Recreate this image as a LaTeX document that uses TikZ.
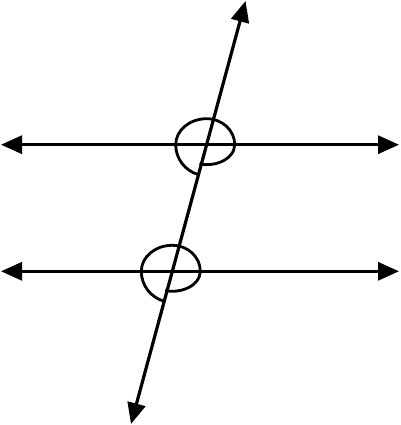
\documentclass[tikz,border=0pt]{standalone}
\usetikzlibrary{arrows.meta}
\begin{document}
\begin{tikzpicture}[x=1pt,y=1pt,
  lineseg/.style={line width=3.2pt,{Triangle[length=21pt,width=18pt]}-{Triangle[length=21pt,width=18pt]}},
  anglemark/.style={line width=2.8pt}]
\useasboundingbox (0,0) rectangle (400,-425);
% points
\coordinate (L1) at (1,-144.7);
\coordinate (R1) at (399,-144.7);
\coordinate (L2) at (1,-271.3);
\coordinate (R2) at (399,-271.3);
\coordinate (TT) at (245.5,-1);
\coordinate (TB) at (131,-424);
\coordinate (O1) at (206.7,-144.7);
\coordinate (O2) at (172.3,-271.3);
% lines
\draw[lineseg] (L1) -- (R1);
\draw[lineseg] (L2) -- (R2);
\draw[lineseg] (TB) -- (TT);
% angle marks
\foreach \O in {O1,O2}{
  \draw[anglemark] ([shift={(28,0)}]\O) arc[start angle=0,end angle=90,x radius=28,y radius=26]
                    arc[start angle=90,end angle=180,x radius=31,y radius=26]
                    arc[start angle=180,end angle=255,radius=31];
  \draw[anglemark] ([shift={(28,0)}]\O) arc[start angle=0,end angle=-105,x radius=28,y radius=20];
}
\end{tikzpicture}
\end{document}
